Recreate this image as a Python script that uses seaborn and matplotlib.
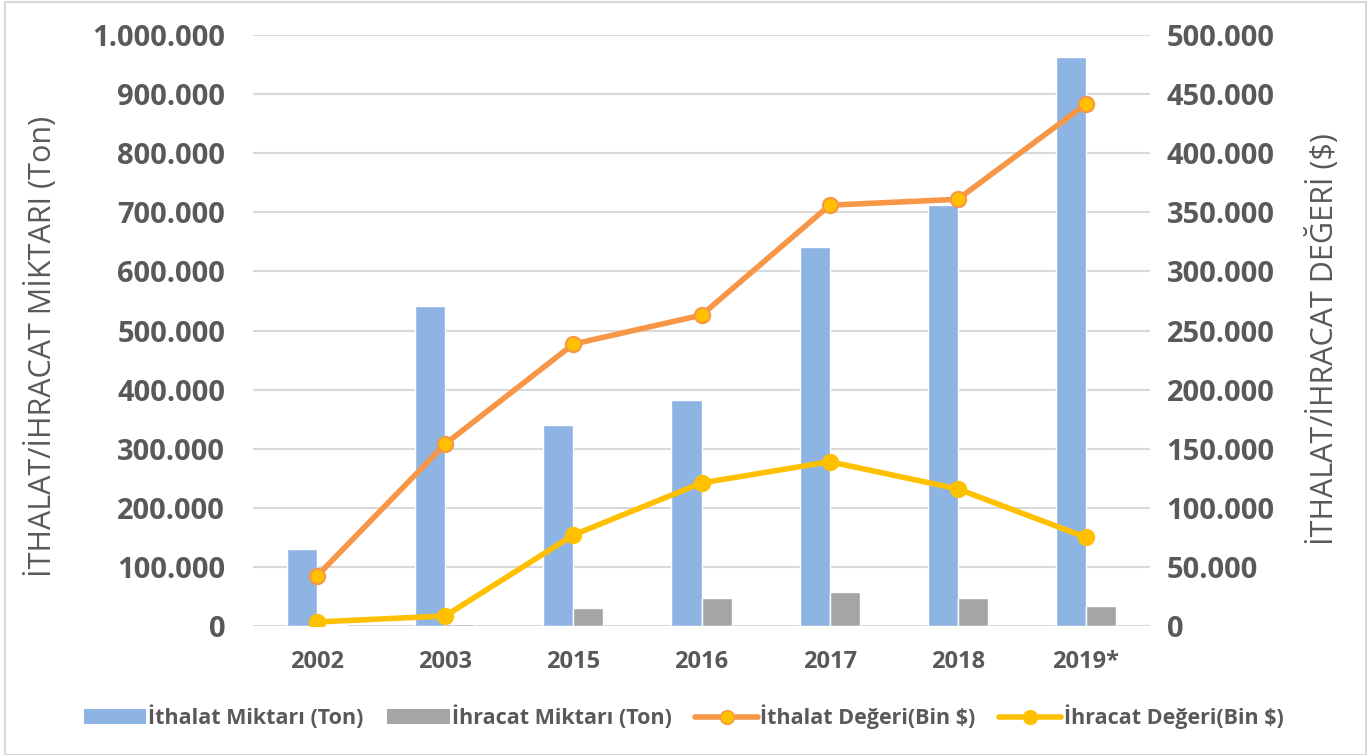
import matplotlib
matplotlib.use("Agg")
import matplotlib.pyplot as plt
import matplotlib.ticker as mticker
from matplotlib.patches import Rectangle
from matplotlib.lines import Line2D
import numpy as np
import pandas as pd
import seaborn as sns

years = ["2002", "2003", "2015", "2016", "2017", "2018", "2019*"]
ithalat_miktari = [130000, 541000, 340000, 382000, 641000, 712000, 963000]
ihracat_miktari = [2000, 4000, 30000, 47000, 57000, 47000, 34000]
ithalat_degeri = [42300, 154000, 238500, 263000, 356000, 361000, 441500]
ihracat_degeri = [3400, 8500, 77000, 121000, 139000, 116000, 75000]

s_imp_q = "İthalat Miktarı (Ton)"
s_exp_q = "İhracat Miktarı (Ton)"
s_imp_v = "İthalat Değeri(Bin $)"
s_exp_v = "İhracat Değeri(Bin $)"

sns.set_theme(style="white")
plt.rcParams["font.family"] = ["Open Sans", "DejaVu Sans"]

C_BLUE = "#8EB4E3"
C_GREY = "#A5A5A5"
C_ORANGE = "#F79646"
C_YELLOW = "#FFC000"
C_TEXT = "#595959"
C_GRID = "#D9D9D9"

bars = pd.DataFrame({
    "year": years * 2,
    "value": ithalat_miktari + ihracat_miktari,
    "series": [s_imp_q] * len(years) + [s_exp_q] * len(years),
})

fig = plt.figure(figsize=(13.67, 7.55), dpi=100)
ax = fig.add_axes([253 / 1367, 1 - 626 / 755, (1150 - 253) / 1367, (626 - 35) / 755])

sns.barplot(data=bars, x="year", y="value", hue="series", order=years,
            palette=[C_BLUE, C_GREY], width=0.47, gap=0, ax=ax,
            legend=False, saturation=1)

ax.set_ylim(0, 1000000)
ax.set_xlim(-0.5, len(years) - 0.5)
ax.yaxis.set_major_locator(mticker.MultipleLocator(100000))
fmt = mticker.FuncFormatter(lambda v, p: f"{int(round(v)):,}".replace(",", "."))
ax.yaxis.set_major_formatter(fmt)
ax.grid(axis="y", color=C_GRID, linewidth=1.5)
ax.set_axisbelow(True)
for s in ax.spines.values():
    s.set_visible(False)
ax.tick_params(axis="both", length=0)
ax.tick_params(axis="y", pad=20, labelsize=21, labelcolor=C_TEXT)
ax.tick_params(axis="x", pad=17, labelsize=17, labelcolor=C_TEXT)
for t in ax.get_yticklabels() + ax.get_xticklabels():
    t.set_fontweight("bold")
ax.set_xlabel("")
ax.set_ylabel("")

ax2 = ax.twinx()
xs = np.arange(len(years))
lines = pd.DataFrame({
    "x": np.concatenate([xs, xs]),
    "value": ithalat_degeri + ihracat_degeri,
    "series": [s_imp_v] * len(years) + [s_exp_v] * len(years),
})
sns.lineplot(data=lines[lines.series == s_imp_v], x="x", y="value", ax=ax2,
             color=C_ORANGE, linewidth=4, marker="o", markersize=11,
             markerfacecolor=C_YELLOW, markeredgecolor=C_ORANGE, markeredgewidth=1.5,
             legend=False)
sns.lineplot(data=lines[lines.series == s_exp_v], x="x", y="value", ax=ax2,
             color=C_YELLOW, linewidth=4, marker="o", markersize=11,
             markerfacecolor=C_YELLOW, markeredgecolor=C_YELLOW, markeredgewidth=1.5,
             legend=False)
ax2.set_ylim(0, 500000)
ax2.set_xlim(-0.5, len(years) - 0.5)
ax2.yaxis.set_major_locator(mticker.MultipleLocator(50000))
ax2.yaxis.set_major_formatter(fmt)
ax2.grid(False)
for s in ax2.spines.values():
    s.set_visible(False)
ax2.tick_params(axis="y", length=0, pad=12, labelsize=21, labelcolor=C_TEXT)
for t in ax2.get_yticklabels():
    t.set_fontweight("bold")
ax2.set_xlabel("")
ax2.set_ylabel("")

fig.text(42 / 1367, 1 - 346 / 755, "İTHALAT/İHRACAT MİKTARI (Ton)", rotation=90,
         ha="center", va="center", fontsize=22, color=C_TEXT)
fig.text(1323 / 1367, 1 - 339 / 755, "İTHALAT/İHRACAT DEĞERİ ($)", rotation=90,
         ha="center", va="center", fontsize=22, color=C_TEXT)

handles = [
    Rectangle((0, 0), 1, 1, facecolor=C_BLUE, edgecolor="none"),
    Rectangle((0, 0), 1, 1, facecolor=C_GREY, edgecolor="none"),
    Line2D([], [], color=C_ORANGE, linewidth=4, marker="o", markersize=10,
           markerfacecolor=C_YELLOW, markeredgecolor=C_ORANGE),
    Line2D([], [], color=C_YELLOW, linewidth=4, marker="o", markersize=10,
           markerfacecolor=C_YELLOW, markeredgecolor=C_YELLOW),
]
leg = fig.legend(handles, [s_imp_q, s_exp_q, s_imp_v, s_exp_v], ncol=4,
                 loc="center", bbox_to_anchor=(0.5, 1 - 717 / 755), frameon=False,
                 prop={"size": 15.5, "weight": "bold"}, labelcolor=C_TEXT,
                 handlelength=2.9, handletextpad=0.1, columnspacing=1.1)

fig.patches.append(Rectangle((5 / 1367, 0.5 / 755), 1 - 6 / 1367, 1 - 2 / 755,
                             transform=fig.transFigure, fill=False,
                             edgecolor=C_GRID, linewidth=1.5))

fig.savefig("out.png", dpi=100)
